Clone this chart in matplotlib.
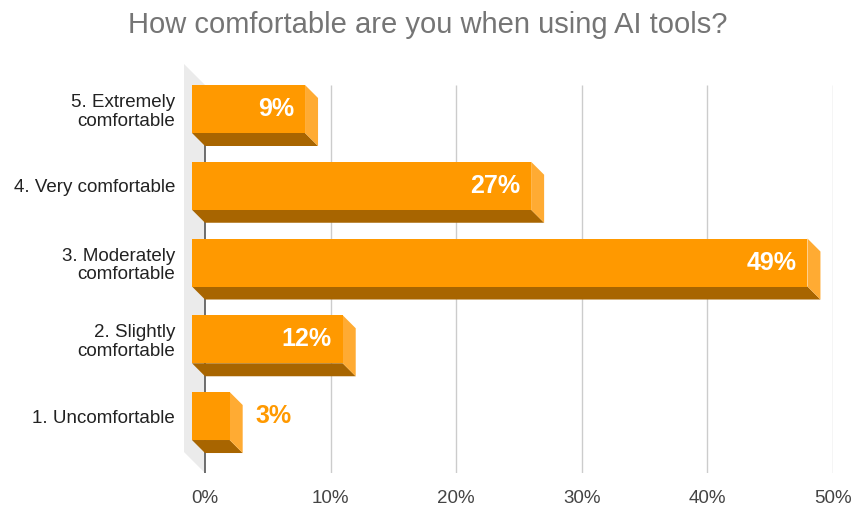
import matplotlib
matplotlib.use("Agg")
import matplotlib.pyplot as plt
from matplotlib.patches import Polygon

categories = ["1. Uncomfortable", "2. Slightly\ncomfortable", "3. Moderately\ncomfortable",
              "4. Very comfortable", "5. Extremely\ncomfortable"]
values = [3, 12, 49, 27, 9]
value_labels = ["3%", "12%", "49%", "27%", "9%"]
xticks = [0, 10, 20, 30, 40, 50]
xtick_labels = ["0%", "10%", "20%", "30%", "40%", "50%"]
title = "How comfortable are you when using AI tools?"

FRONT = "#FF9900"
SIDE = "#FFAB33"
BOTTOM = "#A86500"
WALL = "#EBEBEB"

plt.rcParams["font.family"] = ["Liberation Sans", "DejaVu Sans"]

W, H = 855, 521
fig = plt.figure(figsize=(W / 100, H / 100), dpi=100)
ax_left, ax_right, ax_top, ax_bot = 205, 833, 85, 473
ax = fig.add_axes([ax_left / W, 1 - ax_bot / H, (ax_right - ax_left) / W, (ax_bot - ax_top) / H])

ylo, yhi = -0.573, 4.482
ax.set_xlim(0, 50)
ax.set_ylim(ylo, yhi)
px_x = 50 / (ax_right - ax_left)
px_y = (yhi - ylo) / (ax_bot - ax_top)

for s in ax.spines.values():
    s.set_visible(False)

# gridlines
for t in xticks[1:]:
    ax.plot([t, t], [ylo, yhi], color="#CCCCCC", lw=1.0, zorder=1, solid_capstyle="butt")

# wall
wdx, wdy = 21 * px_x, 21 * px_y
wall = Polygon([(0, ylo), (0, yhi), (-wdx, yhi + wdy), (-wdx, ylo + wdy)],
               closed=True, facecolor=WALL, edgecolor="none", clip_on=False, zorder=0.5)
ax.add_patch(wall)
ax.plot([0, 0], [ylo, yhi], color="#555555", lw=1.2, zorder=2, clip_on=False, solid_capstyle="butt")

# bars
bdx, bdy = 13 * px_x, 13 * px_y
bh = 48 * px_y
for i, (v, lab) in enumerate(zip(values, value_labels)):
    yb, yt = i - bh / 2, i + bh / 2
    bottom = Polygon([(-bdx, yb + bdy), (v - bdx, yb + bdy), (v, yb), (0, yb)],
                     closed=True, facecolor=BOTTOM, edgecolor="none", clip_on=False, zorder=3)
    side = Polygon([(v - bdx, yb + bdy), (v - bdx, yt + bdy), (v, yt), (v, yb)],
                   closed=True, facecolor=SIDE, edgecolor="none", clip_on=False, zorder=3)
    front = Polygon([(-bdx, yb + bdy), (v - bdx, yb + bdy), (v - bdx, yt + bdy), (-bdx, yt + bdy)],
                    closed=True, facecolor=FRONT, edgecolor="none", clip_on=False, zorder=4)
    for p in (bottom, side, front):
        ax.add_patch(p)
    yc = i + bdy
    if v >= 5:
        ax.text(v - bdx - 11 * px_x, yc, lab, ha="right", va="center", color="white",
                fontsize=18, fontweight="bold", zorder=5)
    else:
        ax.text(v + 13 * px_x, yc, lab, ha="left", va="center", color=FRONT,
                fontsize=18, fontweight="bold", zorder=5)

ax.set_xticks(xticks)
ax.set_xticklabels(xtick_labels, fontsize=13.5, color="#444444")
ax.tick_params(axis="x", length=0, pad=12)
ax.set_yticks([i + bdy for i in range(len(categories))])
ax.set_yticklabels(categories, fontsize=13.5, color="#222222", linespacing=1.15)
ax.tick_params(axis="y", length=0, pad=21.6)

fig.text(0.5, 1 - 25 / H, title, ha="center", va="center", fontsize=21, color="#757575")

fig.savefig("out.png", dpi=100, facecolor="white")
